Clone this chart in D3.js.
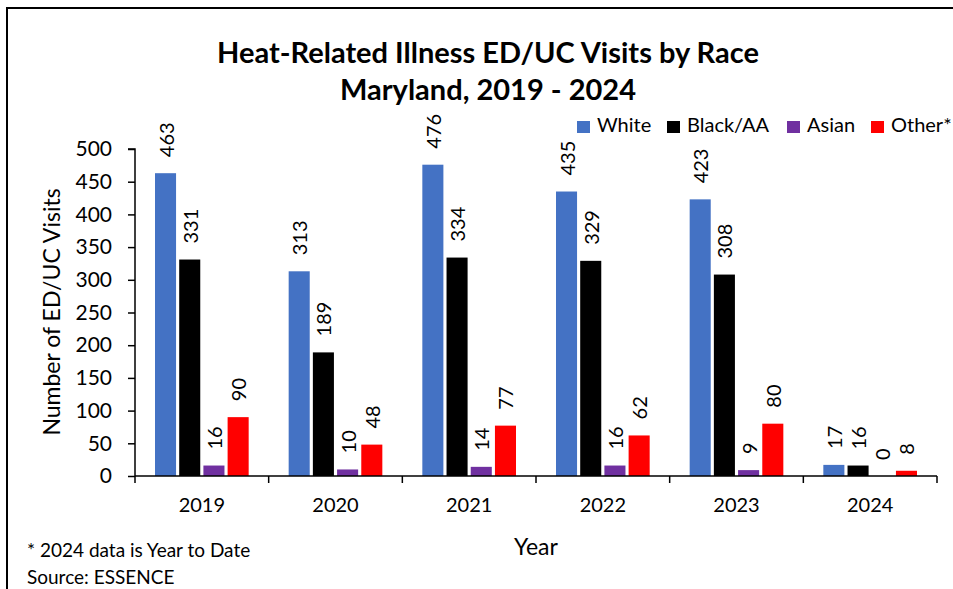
<!DOCTYPE html>
<html>
<head>
<meta charset="utf-8">
<script src="https://cdn.jsdelivr.net/npm/d3@7"></script>
<style>
  html, body { margin: 0; padding: 0; background: #fff; }
  svg { display: block; font-family: Lato, "Open Sans", sans-serif; }
</style>
</head>
<body>
<svg id="chart" width="953" height="589"></svg>
<script>
const years = ["2019", "2020", "2021", "2022", "2023", "2024"];
const seriesNames = ["White", "Black/AA", "Asian", "Other*"];
const white = [463, 313, 476, 435, 423, 17];
const blackAA = [331, 189, 334, 329, 308, 16];
const asian = [16, 10, 14, 16, 9, 0];
const other = [90, 48, 77, 62, 80, 8];
const yTicks = [0, 50, 100, 150, 200, 250, 300, 350, 400, 450, 500];
const colors = ["#4472C4", "#000000", "#7030A0", "#FF0000"];

const seriesValues = [white, blackAA, asian, other];
const data = years.map((yr, i) => ({
  year: yr,
  values: seriesNames.map((s, j) => ({ series: s, value: seriesValues[j][i], color: colors[j] }))
}));

const svg = d3.select("#chart");

// Outer frame
svg.append("line").attr("x1", 7).attr("x2", 953).attr("y1", 8).attr("y2", 8)
  .attr("stroke", "#000").attr("stroke-width", 2);
svg.append("line").attr("x1", 7).attr("x2", 7).attr("y1", 7).attr("y2", 589)
  .attr("stroke", "#000").attr("stroke-width", 2);

const plotLeft = 135, plotRight = 937, plotTop = 149, plotBottom = 476;

const x0 = d3.scaleBand().domain(years).range([plotLeft, plotRight]).paddingInner(0).paddingOuter(0);
const x1 = d3.scaleBand().domain(seriesNames).range([20, x0.bandwidth() - 20]).paddingInner(0.13).paddingOuter(0);
const y = d3.scaleLinear().domain([0, 500]).range([plotBottom, plotTop]);

// Title
svg.append("text").attr("x", 488).attr("y", 63).attr("text-anchor", "middle")
  .attr("font-weight", "bold").attr("font-size", 29).text("Heat-Related Illness ED/UC Visits by Race");
svg.append("text").attr("x", 488).attr("y", 100).attr("text-anchor", "middle")
  .attr("font-weight", "bold").attr("font-size", 29).text("Maryland, 2019 - 2024");

// Bars
const groups = svg.append("g").selectAll("g").data(data).join("g")
  .attr("transform", d => `translate(${x0(d.year)},0)`);

groups.selectAll("rect").data(d => d.values).join("rect")
  .attr("x", d => x1(d.series))
  .attr("width", x1.bandwidth())
  .attr("y", d => y(d.value))
  .attr("height", d => plotBottom - y(d.value))
  .attr("fill", d => d.color);

groups.selectAll("text.val").data(d => d.values).join("text")
  .attr("class", "val")
  .attr("transform", d => `translate(${x1(d.series) + x1.bandwidth() / 2},${y(d.value) - 16}) rotate(-90)`)
  .attr("text-anchor", "start")
  .attr("dominant-baseline", "central")
  .attr("font-size", 20)
  .attr("fill", "#000")
  .text(d => d.value);

// Y axis
const yAxis = svg.append("g").attr("transform", `translate(${plotLeft},0)`)
  .call(d3.axisLeft(y).tickValues(yTicks).tickSize(7).tickPadding(16));
yAxis.select(".domain").attr("stroke", "#000").attr("stroke-width", 1.5).attr("d", `M-7,${plotTop}H0V${plotBottom}`);
yAxis.selectAll(".tick line").attr("stroke", "#000").attr("stroke-width", 1.5);
yAxis.selectAll(".tick text").attr("font-size", 21).attr("font-family", "Lato, sans-serif").attr("fill", "#000");

// X axis
const xAxis = svg.append("g").attr("transform", `translate(0,${plotBottom})`)
  .call(d3.axisBottom(x0).tickSize(0).tickPadding(22));
xAxis.select(".domain").attr("stroke", "#000").attr("stroke-width", 1.5).attr("d", `M${plotLeft},0H${plotRight}`);
xAxis.selectAll(".tick text").attr("font-size", 20).attr("font-family", "Lato, sans-serif").attr("fill", "#000");
xAxis.selectAll("line.sep").data(years.concat(["end"])).join("line").attr("class", "sep")
  .attr("x1", (d, i) => i < years.length ? x0(d) : plotRight)
  .attr("x2", (d, i) => i < years.length ? x0(d) : plotRight)
  .attr("y1", 0).attr("y2", 7).attr("stroke", "#000").attr("stroke-width", 1.5);

// Axis titles
svg.append("text").attr("transform", `translate(60,312) rotate(-90)`).attr("text-anchor", "middle")
  .attr("font-size", 23).text("Number of ED/UC Visits");
svg.append("text").attr("x", 536).attr("y", 555).attr("text-anchor", "middle")
  .attr("font-size", 23).text("Year");

// Footnotes
svg.append("text").attr("x", 27).attr("y", 557).attr("font-size", 19).text("* 2024 data is Year to Date");
svg.append("text").attr("x", 27).attr("y", 584).attr("font-size", 19).text("Source: ESSENCE");

// Legend
const legendX = [577, 667, 787, 871];
const legend = svg.append("g").selectAll("g").data(seriesNames).join("g")
  .attr("transform", (d, i) => `translate(${legendX[i]},120)`);
legend.append("rect").attr("width", 13).attr("height", 12).attr("y", 1).attr("fill", (d, i) => colors[i]);
legend.append("text").attr("x", 20).attr("y", 12).attr("font-size", 20).text(d => d);
</script>
</body>
</html>
